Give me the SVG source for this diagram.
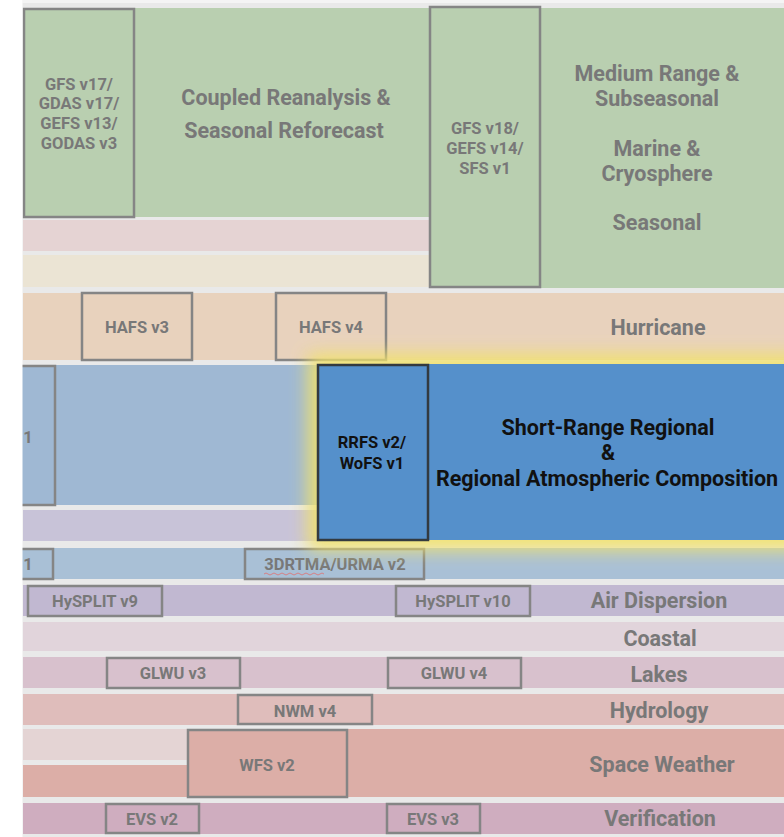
<svg xmlns="http://www.w3.org/2000/svg" width="784" height="837" viewBox="0 0 784 837">
<defs>
<style>
.t{font-family:Roboto,"Liberation Sans",sans-serif;font-weight:bold;fill:#787878;text-anchor:middle}
.b{font-size:16.5px}
.L{font-size:21.5px}
.d{fill:#111}
.bx{stroke:#858585;stroke-width:2.5}
</style>
<filter id="glow" x="-20%" y="-30%" width="140%" height="160%"><feGaussianBlur stdDeviation="9"/></filter>
</defs>
<rect x="0" y="0" width="784" height="837" fill="#e9e9e9"/>

<g id="bands">
<rect x="23" y="8" width="407" height="209" fill="#b9cfb0"/>
<rect x="540" y="8" width="244" height="280" fill="#b9cfb0"/>
<rect x="23" y="220" width="407" height="31" fill="#e5d3d3"/>
<rect x="23" y="255" width="407" height="32" fill="#ebe4d4"/>
<rect x="23" y="293" width="761" height="67" fill="#e8d2bd"/>
<rect x="23" y="365" width="300" height="140" fill="#9fb8d3"/>
<rect x="23" y="510" width="300" height="31" fill="#c8c3d8"/>
<rect x="23" y="548" width="761" height="31" fill="#a9c0d6"/>
<rect x="23" y="585" width="761" height="31" fill="#c1b8d1"/>
<rect x="23" y="622" width="761" height="29" fill="#e1d4db"/>
<rect x="23" y="657" width="761" height="31" fill="#d8c1cd"/>
<rect x="23" y="694" width="761" height="31" fill="#dfbdbb"/>
<rect x="23" y="729" width="330" height="31" fill="#e4d4d4"/>
<rect x="23" y="765" width="330" height="32" fill="#dcaea7"/>
<rect x="347" y="729" width="437" height="68" fill="#dcaea7"/>
<rect x="23" y="803" width="761" height="31" fill="#cfadbf"/>
</g>

<g id="band-labels">
<text class="t L" x="286" y="104.5">Coupled Reanalysis &amp;</text>
<text class="t L" x="284" y="137.5">Seasonal Reforecast</text>
<text class="t L" x="657" y="80.5">Medium Range &amp;</text>
<text class="t L" x="657" y="105.5">Subseasonal</text>
<text class="t L" x="657" y="155.5">Marine &amp;</text>
<text class="t L" x="657" y="180.5">Cryosphere</text>
<text class="t L" x="657" y="229.5">Seasonal</text>
<text class="t L" x="658" y="334.5">Hurricane</text>
<text class="t L" x="659" y="607.5">Air Dispersion</text>
<text class="t L" x="660" y="645.5">Coastal</text>
<text class="t L" x="659" y="681.5">Lakes</text>
<text class="t L" x="659" y="717.5">Hydrology</text>
<text class="t L" x="662" y="771.5">Space Weather</text>
<text class="t L" x="660" y="825.5">Verification</text>
</g>

<g id="node-gfs17">
<rect class="bx" x="24" y="9" width="110" height="208" fill="#b9cfb0"/>
<text class="t b" x="79" y="90">GFS v17/</text>
<text class="t b" x="79" y="109">GDAS v17/</text>
<text class="t b" x="79" y="129">GEFS v13/</text>
<text class="t b" x="79" y="149">GODAS v3</text>
</g>
<g id="node-gfs18">
<rect class="bx" x="430" y="7" width="110" height="280" fill="#b9cfb0"/>
<text class="t b" x="485" y="134">GFS v18/</text>
<text class="t b" x="485" y="154">GEFS v14/</text>
<text class="t b" x="485" y="174">SFS v1</text>
</g>
<g id="node-hafs3">
<rect class="bx" x="82" y="293" width="110" height="67" fill="#e8d2bd"/>
<text class="t b" x="137" y="333">HAFS v3</text>
</g>
<g id="node-hafs4">
<rect class="bx" x="276" y="293" width="110" height="67" fill="#e8d2bd"/>
<text class="t b" x="331" y="333">HAFS v4</text>
</g>
<g id="node-left1">
<rect class="bx" x="18" y="366" width="37" height="139" fill="#9fb8d3"/>
<text class="t b" x="28" y="443">1</text>
</g>
<g id="node-left2">
<rect class="bx" x="18" y="549" width="35" height="30" fill="#a9c0d6"/>
<text class="t b" x="28" y="570">1</text>
</g>
<g id="node-3drtma">
<rect class="bx" x="245" y="549" width="179" height="30" fill="#a9c0d6"/>
<text class="t b" x="335" y="570">3DRTMA/URMA v2</text>
<path d="M264 574 q2 -2 4 0 t4 0 t4 0 t4 0 t4 0 t4 0 t4 0 t4 0 t4 0 t4 0 t4 0 t4 0 t4 0 t4 0 t4 0" fill="none" stroke="#e07070" stroke-width="0.8"/>
</g>
<g id="node-hysplit9">
<rect class="bx" x="28" y="586" width="134" height="30" fill="#c1b8d1"/>
<text class="t b" x="95" y="607">HySPLIT v9</text>
</g>
<g id="node-hysplit10">
<rect class="bx" x="396" y="586" width="134" height="30" fill="#c1b8d1"/>
<text class="t b" x="463" y="607">HySPLIT v10</text>
</g>
<g id="node-glwu3">
<rect class="bx" x="107" y="658" width="133" height="30" fill="#d8c1cd"/>
<text class="t b" x="173" y="679">GLWU v3</text>
</g>
<g id="node-glwu4">
<rect class="bx" x="388" y="658" width="133" height="30" fill="#d8c1cd"/>
<text class="t b" x="454" y="679">GLWU v4</text>
</g>
<g id="node-nwm4">
<rect class="bx" x="238" y="695" width="134" height="29" fill="#dfbdbb"/>
<text class="t b" x="305" y="717">NWM v4</text>
</g>
<g id="node-wfs2">
<rect class="bx" x="188" y="730" width="159" height="67" fill="#dcaea7"/>
<text class="t b" x="267" y="771">WFS v2</text>
</g>
<g id="node-evs2">
<rect class="bx" x="106" y="804" width="93" height="29" fill="#cfadbf"/>
<text class="t b" x="152" y="825">EVS v2</text>
</g>
<g id="node-evs3">
<rect class="bx" x="387" y="804" width="93" height="29" fill="#cfadbf"/>
<text class="t b" x="433" y="825">EVS v3</text>
</g>

<rect x="308" y="354" width="500" height="196" fill="#f2e26a" opacity="0.95" filter="url(#glow)"/>

<g id="node-shortrange">
<rect x="428" y="364" width="356" height="176" fill="#5590cb"/>
<text class="t L d" x="608" y="434.5">Short-Range Regional</text>
<text class="t L d" x="608" y="459.5">&amp;</text>
<text class="t L d" x="607" y="485.5">Regional Atmospheric Composition</text>
</g>
<g id="node-rrfs">
<rect x="318" y="365" width="110" height="175" fill="#5590cb" stroke="#333a40" stroke-width="2.5"/>
<text class="t b d" x="372" y="448">RRFS v2/</text>
<text class="t b d" x="372" y="469">WoFS v1</text>
</g>
<rect x="0" y="0" width="22.5" height="837" fill="#ffffff"/>
<rect x="22.5" y="0" width="761.5" height="3" fill="#ffffff" opacity="0.5"/>
<g id="connectors"/>
</svg>
